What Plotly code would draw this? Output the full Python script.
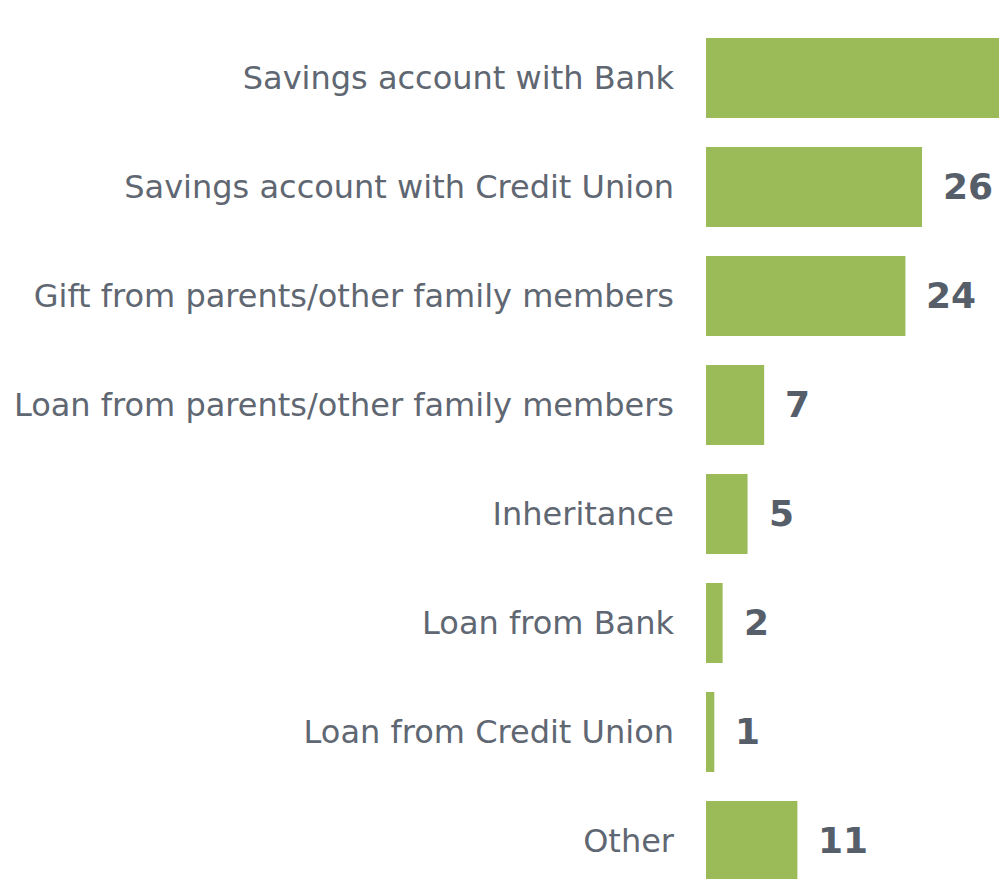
import plotly.graph_objects as go

categories = [
    "Savings account with Bank",
    "Savings account with Credit Union",
    "Gift from parents/other family members",
    "Loan from parents/other family members",
    "Inheritance",
    "Loan from Bank",
    "Loan from Credit Union",
    "Other",
]
values = [58, 26, 24, 7, 5, 2, 1, 11]

BAR_COLOR = "#9BBB59"
LABEL_COLOR = "#5F6772"
VALUE_COLOR = "#565E6A"

fig = go.Figure()
fig.add_trace(go.Bar(
    x=values,
    y=categories,
    orientation="h",
    marker=dict(color=BAR_COLOR, line=dict(width=0)),
    hoverinfo="skip",
    cliponaxis=True,
))

for c, v in zip(categories, values):
    fig.add_annotation(
        x=v, y=c, xref="x", yref="y",
        text=f"<b>{v}</b>",
        showarrow=False,
        xanchor="left", yanchor="middle",
        xshift=19,
        font=dict(family="DejaVu Sans", size=36, color=VALUE_COLOR),
    )

fig.update_layout(
    width=999, height=879,
    margin=dict(l=706, r=0, t=0, b=0),
    paper_bgcolor="white",
    plot_bgcolor="white",
    bargap=0.266,
    showlegend=False,
    font=dict(family="DejaVu Sans", color=LABEL_COLOR),
)
fig.update_xaxes(
    range=[0, 35.26],
    showgrid=False, zeroline=False, showline=False,
    showticklabels=False, ticks="",
)
fig.update_yaxes(
    type="category",
    categoryorder="array", categoryarray=categories,
    range=[7.349, -0.7156],
    showgrid=False, zeroline=False, showline=False,
    ticks="", ticklabelstandoff=31,
    tickfont=dict(family="DejaVu Sans", size=32, color=LABEL_COLOR),
)

fig.write_html(
    "out.html",
    config={"displayModeBar": False},
    post_script="document.body.style.margin='0';document.body.style.overflow='hidden';",
)
